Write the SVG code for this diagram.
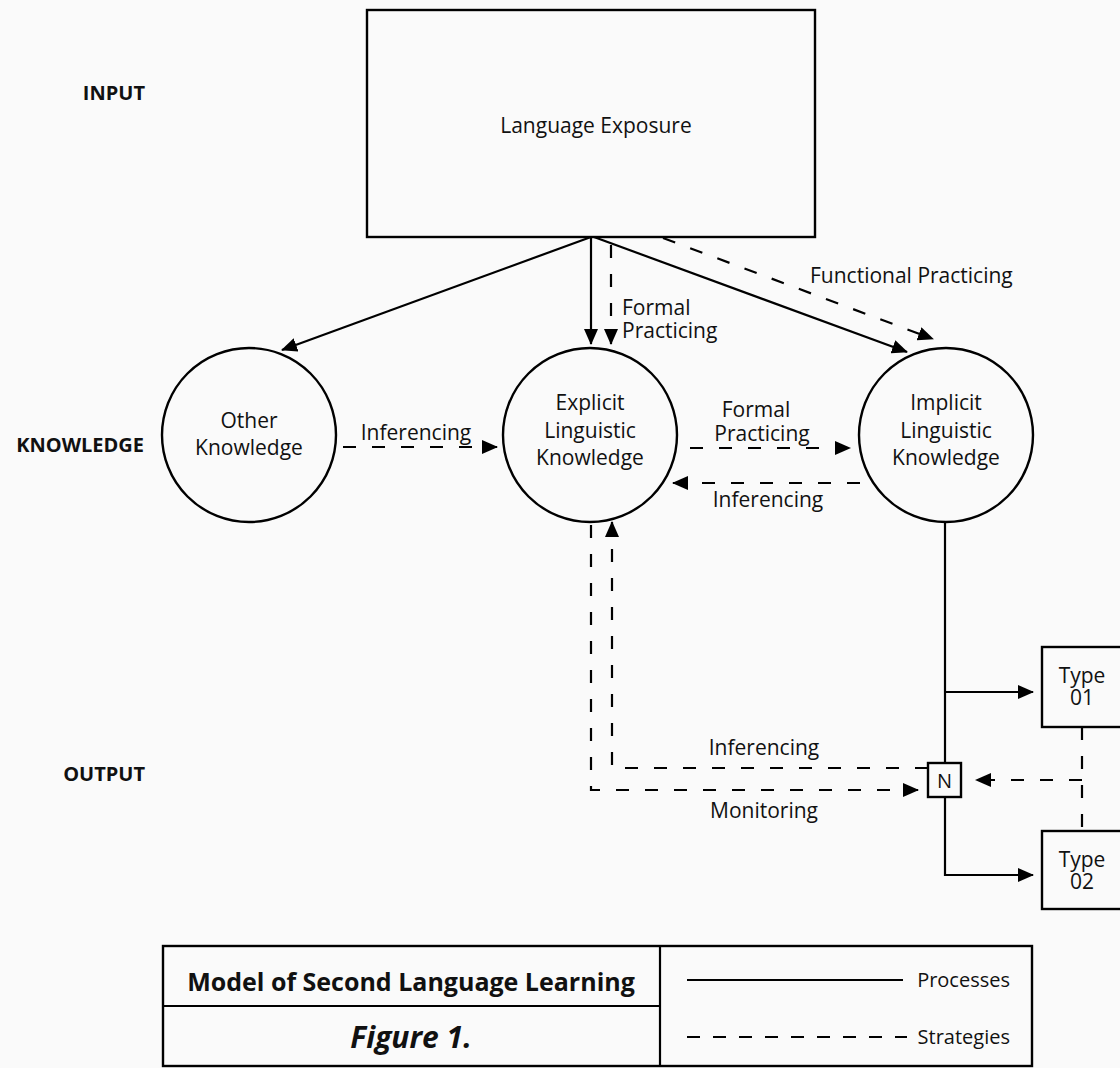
<svg xmlns="http://www.w3.org/2000/svg" width="1120" height="1068" viewBox="0 0 1120 1068">
<defs>
<marker id="ah" markerUnits="userSpaceOnUse" markerWidth="16" markerHeight="14" refX="15" refY="7" orient="auto"><path d="M0,0 L16,7 L0,14 Z" fill="#000"/></marker>
<style>
.t{font-family:"Open Sans","Liberation Sans",sans-serif;font-size:21px;fill:#111;text-anchor:middle}
.l{text-anchor:start}
.b{font-family:"Open Sans","Liberation Sans",sans-serif;font-size:20px;font-weight:bold;fill:#111;text-anchor:end}
.s{fill:none;stroke:#000;stroke-width:2.2}
.d{fill:none;stroke:#000;stroke-width:2.2;stroke-dasharray:13 16}
.n{fill:#fafafa;stroke:#000;stroke-width:2.4}
.g{font-family:"Open Sans","Liberation Sans",sans-serif;fill:#111}
</style>
</defs>
<rect width="1120" height="1068" fill="#fafafa"/>
<g id="labels">
<text class="b" x="145" y="100">INPUT</text>
<text class="b" x="144" y="452">KNOWLEDGE</text>
<text class="b" x="145" y="781">OUTPUT</text>
</g>
<g id="connectors">
<line class="s" x1="591" y1="237" x2="282" y2="350" marker-end="url(#ah)"/>
<line class="s" x1="591" y1="237" x2="591" y2="344" marker-end="url(#ah)"/>
<line class="d" x1="611" y1="245" x2="611" y2="344" marker-end="url(#ah)"/>
<line class="s" x1="594" y1="237" x2="907" y2="352" marker-end="url(#ah)"/>
<line class="d" x1="663" y1="238" x2="933" y2="339" marker-end="url(#ah)"/>
<line class="d" x1="343" y1="447" x2="497" y2="447" marker-end="url(#ah)"/>
<line class="d" x1="690" y1="448" x2="850" y2="448" marker-end="url(#ah)"/>
<line class="d" x1="860" y1="483" x2="673" y2="483" marker-end="url(#ah)"/>
<polyline class="d" points="591,525 591,790 918,790" marker-end="url(#ah)"/>
<polyline class="d" points="928,768 612,768 612,522" marker-end="url(#ah)"/>
<line class="s" x1="945" y1="522" x2="945" y2="763"/>
<polyline class="s" points="945,692 1033,692" marker-end="url(#ah)"/>
<polyline class="s" points="945,797 945,875 1033,875" marker-end="url(#ah)"/>
<line class="d" x1="1082" y1="727" x2="1082" y2="831"/>
<line class="d" x1="1082" y1="780" x2="976" y2="780" marker-end="url(#ah)"/>
<g class="t">
<text class="l" x="810" y="283">Functional Practicing</text>
<text class="l" x="622" y="315">Formal</text>
<text class="l" x="622" y="338">Practicing</text>
<text x="416" y="440">Inferencing</text>
<text x="756" y="417">Formal</text>
<text x="762" y="441">Practicing</text>
<text x="768" y="507">Inferencing</text>
<text x="764" y="755">Inferencing</text>
<text x="764" y="818">Monitoring</text>
</g>
</g>
<g id="language-exposure">
<rect class="n" x="367" y="10" width="448" height="227"/>
<text class="t" x="596" y="133">Language Exposure</text>
</g>
<g id="other-knowledge">
<circle class="n" cx="249" cy="435" r="87"/>
<text class="t" x="249" y="428">Other</text>
<text class="t" x="249" y="455">Knowledge</text>
</g>
<g id="explicit">
<circle class="n" cx="590" cy="435" r="87"/>
<text class="t" x="590" y="410">Explicit</text>
<text class="t" x="590" y="438">Linguistic</text>
<text class="t" x="590" y="465">Knowledge</text>
</g>
<g id="implicit">
<circle class="n" cx="946" cy="435" r="87"/>
<text class="t" x="946" y="410">Implicit</text>
<text class="t" x="946" y="438">Linguistic</text>
<text class="t" x="946" y="465">Knowledge</text>
</g>
<g id="n-node">
<rect class="n" x="928" y="763" width="33" height="34"/>
<text class="t" x="944.5" y="788" style="font-size:20px">N</text>
</g>
<g id="type01">
<rect class="n" x="1042" y="647" width="100" height="80"/>
<text class="t" x="1082" y="683">Type</text>
<text class="t" x="1082" y="705">01</text>
</g>
<g id="type02">
<rect class="n" x="1042" y="831" width="100" height="78"/>
<text class="t" x="1082" y="867">Type</text>
<text class="t" x="1082" y="889">02</text>
</g>
<g id="legend">
<rect class="n" x="163" y="946" width="869" height="120"/>
<line class="s" x1="163" y1="1006" x2="660" y2="1006"/>
<line class="s" x1="660" y1="946" x2="660" y2="1066"/>
<text class="g" x="411" y="991" style="font-size:25px;font-weight:bold;text-anchor:middle">Model of Second Language Learning</text>
<text class="g" x="411" y="1048" style="font-size:30px;font-weight:bold;font-style:italic;text-anchor:middle">Figure 1.</text>
<line class="s" x1="687" y1="980" x2="903" y2="980"/>
<line class="d" x1="687" y1="1037" x2="907" y2="1037" style="stroke-dasharray:13 13"/>
<text class="g" x="1010" y="987" style="font-size:20px;text-anchor:end">Processes</text>
<text class="g" x="1010" y="1044" style="font-size:20px;text-anchor:end">Strategies</text>
</g>
</svg>
